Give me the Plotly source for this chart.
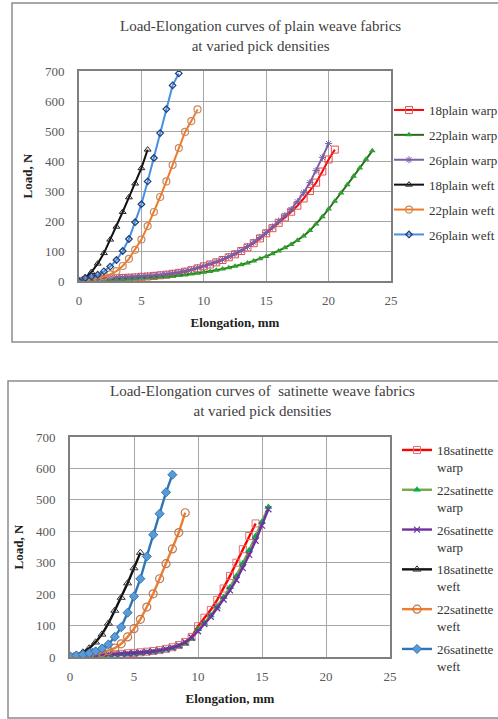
import plotly.graph_objects as go

# ---------------- Data: plain weave ----------------
step = 0.5
plain_18_warp = [0, 3, 5, 6, 7, 8, 9, 10, 11, 12, 14, 15, 17, 19, 21, 24, 27, 31, 36, 42, 49, 55, 62, 70, 79, 89,
                 100, 112, 126, 142, 159, 176, 194, 212, 231, 251, 275, 300, 328, 365, 405, 438]
plain_22_warp = [0, 1, 1, 2, 2, 3, 4, 5, 6, 7, 9, 10, 11, 13, 14, 16, 18, 20, 23, 26, 29, 32, 36, 40, 44, 49,
                 54, 60, 67, 74, 82, 91, 100, 111, 122, 135, 150, 168, 190, 214, 240, 266, 293, 321, 349, 377, 406, 434]
plain_26_warp = [0, 4, 6, 8, 9, 10, 11, 12, 13, 14, 16, 17, 19, 21, 23, 26, 29, 33, 38, 44, 50, 57, 64, 72, 81,
                 91, 102, 115, 129, 145, 162, 180, 199, 218, 238, 264, 294, 328, 368, 412, 458]
plain_18_weft = [0, 12, 30, 58, 93, 138, 181, 230, 279, 325, 376, 438]
plain_22_weft = [0, 3, 6, 10, 15, 22, 33, 50, 74, 104, 138, 183, 230, 280, 332, 387, 443, 497, 533, 572]
plain_26_weft = [0, 10, 15, 21, 32, 48, 70, 100, 140, 196, 256, 332, 410, 493, 573, 652, 692]

# ---------------- Data: satinette weave ----------------
sat_18_warp = [0, 2, 4, 5, 6, 7, 8, 9, 10, 12, 13, 15, 17, 19, 22, 26, 31, 38, 48, 64, 98, 125, 150, 182, 218,
               258, 300, 343, 385, 425]
sat_22_warp = [0, 1, 2, 3, 4, 5, 6, 7, 8, 9, 10, 12, 14, 16, 19, 23, 28, 34, 43, 58, 88, 108, 132, 160, 190,
               222, 258, 298, 340, 385, 430, 477]
sat_26_warp = [0, 3, 4, 5, 6, 7, 8, 9, 10, 11, 12, 14, 16, 18, 21, 25, 30, 37, 47, 62, 82, 105, 128, 155, 183,
               212, 245, 283, 325, 370, 418, 470]
sat_18_weft = [0, 7, 15, 28, 47, 72, 107, 148, 189, 235, 283, 332]
sat_22_weft = [0, 2, 4, 6, 9, 14, 20, 28, 42, 64, 90, 120, 159, 201, 249, 297, 344, 396, 459]
sat_26_weft = [2, 5, 8, 12, 18, 27, 40, 64, 95, 141, 193, 249, 320, 389, 456, 524, 580]

x_ticks = [0, 5, 10, 15, 20, 25]
y_ticks = [0, 100, 200, 300, 400, 500, 600, 700]

W, H = 498, 719
SERIF = "Liberation Serif, Times New Roman, serif"


def xs(vals):
    return [i * step for i in range(len(vals))]


fig = go.Figure()

plain_series = [
    ("18plain warp", plain_18_warp, "#ff0000", dict(symbol="square-open", size=7, color="#e05050", line=dict(width=1))),
    ("22plain warp", plain_22_warp, "#2e6b1e", dict(symbol="triangle-up", size=6, color="#2ea02e")),
    ("26plain warp", plain_26_warp, "#7a5fa6", dict(symbol="asterisk-open", size=6, color="#7a5fa6", line=dict(width=1))),
    ("18plain weft", plain_18_weft, "#111111", dict(symbol="triangle-up-open", size=6, color="#222222", line=dict(width=1))),
    ("22plain weft", plain_22_weft, "#ef7a2a", dict(symbol="circle-open", size=7, color="#c98a60", line=dict(width=1.2))),
    ("26plain weft", plain_26_weft, "#4a90e2", dict(symbol="diamond-open", size=5, color="#1f3f7a", line=dict(width=1.3))),
]
for i, (name, vals, col, mk) in enumerate(plain_series):
    fig.add_trace(go.Scatter(x=xs(vals), y=vals, name=name, mode="lines+markers",
                             line=dict(color=col, width=2), marker=mk,
                             xaxis="x", yaxis="y", legend="legend", legendgroup="p%d" % i))

sat_series = [
    ("18satinette<br>warp", sat_18_warp, "#ff0000", dict(symbol="square-open", size=7, color="#e07070", line=dict(width=1))),
    ("22satinette<br>warp", sat_22_warp, "#77a846", dict(symbol="triangle-up", size=7, color="#00b050")),
    ("26satinette<br>warp", sat_26_warp, "#7030a0", dict(symbol="x-thin-open", size=6, color="#7030a0", line=dict(width=1.2))),
    ("18satinette<br>weft", sat_18_weft, "#111111", dict(symbol="triangle-up-open", size=7, color="#333333", line=dict(width=1))),
    ("22satinette<br>weft", sat_22_weft, "#ed7d31", dict(symbol="circle-open", size=8, color="#c07a50", line=dict(width=1.2))),
    ("26satinette<br>weft", sat_26_weft, "#2e75b6", dict(symbol="diamond", size=7, color="#5b9bd5", line=dict(width=1, color="#2e75b6"))),
]
for i, (name, vals, col, mk) in enumerate(sat_series):
    fig.add_trace(go.Scatter(x=xs(vals), y=vals, name=name, mode="lines+markers",
                             line=dict(color=col, width=2.4), marker=mk,
                             xaxis="x2", yaxis="y2", legend="legend2", legendgroup="s%d" % i))

axis_common = dict(range=[0, 25], tickvals=x_ticks, showgrid=True, gridcolor="#a6a6a6", gridwidth=1.3,
                   showline=True, linecolor="#7f7f7f", linewidth=1.6, mirror=True, zeroline=False,
                   automargin=False,
                   ticks="", tickfont=dict(family=SERIF, size=13, color="#595959"), ticklabelstandoff=7)
yaxis_common = dict(range=[0, 700], tickvals=y_ticks, showgrid=True, gridcolor="#a6a6a6", gridwidth=1.3,
                    showline=True, linecolor="#7f7f7f", linewidth=1.6, mirror=True, zeroline=False,
                    automargin=False,
                    ticks="", tickfont=dict(family=SERIF, size=13, color="#595959"), ticklabelstandoff=10)


def px_x(p):
    return p / W


def px_y(p):
    return 1 - p / H


title_font = dict(size=13, color="#222")

fig.update_layout(
    width=W, height=H, margin=dict(l=0, r=0, t=0, b=0, pad=0, autoexpand=False),
    paper_bgcolor="white", plot_bgcolor="white",
    font=dict(family=SERIF, color="#222222"),
    xaxis=dict(axis_common, domain=[px_x(79), px_x(391)], anchor="y",
               title=dict(text="<b>Elongation, mm</b>", font=title_font, standoff=10)),
    yaxis=dict(yaxis_common, domain=[px_y(281), px_y(71)], anchor="x",
               title=dict(text="<b>Load, N</b>", font=title_font, standoff=10)),
    xaxis2=dict(axis_common, domain=[px_x(70), px_x(390)], anchor="y2",
                title=dict(text="<b>Elongation, mm</b>", font=title_font, standoff=10)),
    yaxis2=dict(yaxis_common, domain=[px_y(657), px_y(437)], anchor="x2",
                title=dict(text="<b>Load, N</b>", font=title_font, standoff=10)),
    legend=dict(x=px_x(389), y=px_y(95), xanchor="left", yanchor="top", bgcolor="rgba(0,0,0,0)",
                font=dict(family=SERIF, size=13, color="#333"), tracegroupgap=5, traceorder="grouped",
                itemwidth=30),
    legend2=dict(x=px_x(397), y=px_y(435), xanchor="left", yanchor="top", bgcolor="rgba(0,0,0,0)",
                 font=dict(family=SERIF, size=13, color="#333"), tracegroupgap=3, traceorder="grouped",
                 itemwidth=30, valign="top"),
    showlegend=True,
)

# Titles
fig.add_annotation(text="Load-Elongation curves of plain weave fabrics<br>at varied pick densities",
                   x=px_x(260), y=px_y(36), xref="paper", yref="paper", showarrow=False,
                   xanchor="center", yanchor="middle",
                   font=dict(family=SERIF, size=15, color="#404040"), align="center")
fig.add_annotation(text="Load-Elongation curves of  satinette weave fabrics<br>at varied pick densities",
                   x=px_x(262), y=px_y(401), xref="paper", yref="paper", showarrow=False,
                   xanchor="center", yanchor="middle",
                   font=dict(family=SERIF, size=15, color="#404040"), align="center")

# Chart frames
fig.add_shape(type="rect", xref="paper", yref="paper", x0=px_x(12), x1=1.02, y0=px_y(342), y1=px_y(3),
              line=dict(color="#8c8c8c", width=1.5), fillcolor="rgba(0,0,0,0)", layer="below")
fig.add_shape(type="rect", xref="paper", yref="paper", x0=px_x(8), x1=1.02, y0=px_y(718), y1=px_y(381),
              line=dict(color="#8c8c8c", width=1.5), fillcolor="rgba(0,0,0,0)", layer="below")

fig.write_html("out.html", config={"displayModeBar": False},
               post_script="document.body.style.margin='0';")
